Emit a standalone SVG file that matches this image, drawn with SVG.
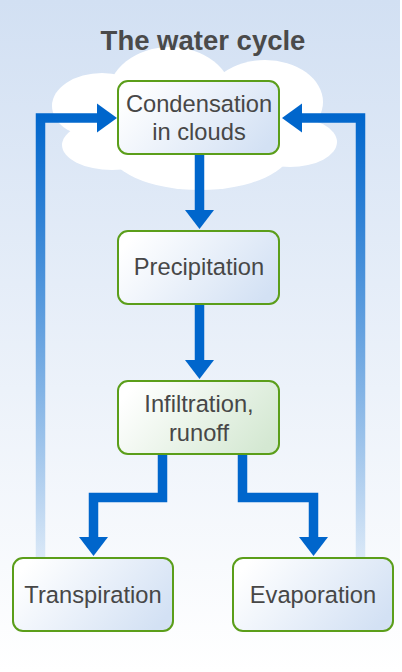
<svg xmlns="http://www.w3.org/2000/svg" width="402" height="672" viewBox="0 0 402 672">
<defs>
<linearGradient id="bg" x1="0" y1="0" x2="0" y2="1">
<stop offset="0" stop-color="#d2e0f3"/>
<stop offset="1" stop-color="#ffffff"/>
</linearGradient>
<linearGradient id="blueNode" x1="0" y1="0.3" x2="1" y2="0.7">
<stop offset="0" stop-color="#ffffff"/>
<stop offset="1" stop-color="#d3e1f4"/>
</linearGradient>
<linearGradient id="greenNode" x1="0" y1="0.3" x2="1" y2="0.7">
<stop offset="0" stop-color="#ffffff"/>
<stop offset="1" stop-color="#d4e8d2"/>
</linearGradient>
<linearGradient id="fade" gradientUnits="userSpaceOnUse" x1="0" y1="113" x2="0" y2="557">
<stop offset="0" stop-color="#0066cc" stop-opacity="1"/>
<stop offset="1" stop-color="#0066cc" stop-opacity="0.12"/>
</linearGradient>
</defs>
<style>
.node rect { stroke: #5b9e1a; stroke-width: 2; }
.node text { font-family: "Liberation Sans", Arial, sans-serif; font-size: 23.7px; fill: #474747; text-anchor: middle; }
.title { font-family: "Liberation Sans", Arial, sans-serif; font-size: 27.5px; font-weight: bold; fill: #4a4a4a; text-anchor: middle; }
.shaft { fill: none; stroke: #0066cc; stroke-width: 9.5; }
.ret { fill: none; stroke: url(#fade); stroke-width: 9.5; }
.head { fill: #0066cc; }
</style>
<rect x="0" y="0" width="400" height="672" fill="url(#bg)"/>
<g id="cloud" fill="#ffffff">
<ellipse cx="170" cy="96" rx="62" ry="49"/>
<ellipse cx="265" cy="102" rx="58" ry="42"/>
<ellipse cx="102" cy="106" rx="50" ry="33"/>
<ellipse cx="112" cy="145" rx="50" ry="25"/>
<ellipse cx="200" cy="148" rx="92" ry="42"/>
<ellipse cx="290" cy="142" rx="47" ry="25"/>
<rect x="100" y="90" width="210" height="70"/>
</g>
<text class="title" x="203" y="50">The water cycle</text>
<g id="connectors">
<path class="ret" d="M40.5 557 V118 H98"/>
<polygon class="head" points="97,103.5 117,118 97,132.5"/>
<path class="ret" d="M360.5 557 V118 H301"/>
<polygon class="head" points="302,103.5 282,118 302,132.5"/>
<path class="shaft" d="M199.5 155 V211"/>
<polygon class="head" points="185,210 214,210 199.5,229"/>
<path class="shaft" d="M199.5 305 V361"/>
<polygon class="head" points="185,360 214,360 199.5,379"/>
<path class="shaft" d="M162.5 455 V497.5 H93.5 V538"/>
<polygon class="head" points="79,537 108,537 93.5,556"/>
<path class="shaft" d="M242.5 455 V497.5 H313.5 V538"/>
<polygon class="head" points="299,537 328,537 313.5,556"/>
</g>
<g id="condensation" class="node">
<rect x="118" y="81" width="161" height="73" rx="10" fill="url(#blueNode)"/>
<text x="199" y="111.5">Condensation</text>
<text x="199" y="140">in clouds</text>
</g>
<g id="precipitation" class="node">
<rect x="118" y="231" width="161" height="73" rx="10" fill="url(#blueNode)"/>
<text x="199" y="274.5">Precipitation</text>
</g>
<g id="infiltration" class="node">
<rect x="118" y="381" width="161" height="73" rx="10" fill="url(#greenNode)"/>
<text x="199" y="412">Infiltration,</text>
<text x="199" y="440.5">runoff</text>
</g>
<g id="transpiration" class="node">
<rect x="13" y="558" width="160" height="73" rx="10" fill="url(#blueNode)"/>
<text x="93" y="603">Transpiration</text>
</g>
<g id="evaporation" class="node">
<rect x="233" y="558" width="160" height="73" rx="10" fill="url(#blueNode)"/>
<text x="313" y="603">Evaporation</text>
</g>
</svg>
